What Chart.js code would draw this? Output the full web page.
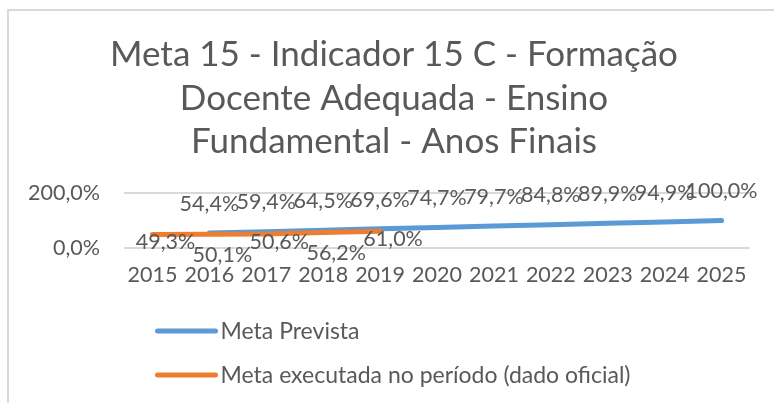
<!DOCTYPE html>
<html>
<head>
<meta charset="utf-8">
<script src="https://cdn.jsdelivr.net/npm/chart.js@4.4.1/dist/chart.umd.min.js"></script>
<style>
    html, body { margin: 0; padding: 0; background: #fff; width: 774px; height: 403px; overflow: hidden; }
    #moldura { position: absolute; left: 7px; top: 9px; width: 780px; height: 400px;
               border-left: 2px solid #d9d9d9; border-top: 2px solid #d9d9d9; }
    #moldura canvas { display: block; }
</style>
</head>
<body>
<div id="moldura"><canvas id="grafico" width="772" height="392"></canvas></div>
<script>
/* DADOS DO GRAFICO */
const anos = ['2015', '2016', '2017', '2018', '2019', '2020', '2021', '2022', '2023', '2024', '2025'];
const metaPrevista = [null, 54.4, 59.4, 64.5, 69.6, 74.7, 79.7, 84.8, 89.9, 94.9, 100.0];
const metaExecutada = [49.3, 50.1, 50.6, 56.2, 61.0, null, null, null, null, null, null];
const nomesSeries = ['Meta Prevista', 'Meta executada no período (dado oficial)'];
const coresSeries = ['#5B9BD5', '#ED7D31'];
const titulo = ['Meta 15 - Indicador 15 C - Formação', 'Docente Adequada - Ensino', 'Fundamental - Anos Finais'];
const eixoY = { min: 0, max: 200, passo: 200 };

const corTexto = '#595959';
const fonte = 'Lato';

function formataPct(v) {
    return v.toFixed(1).replace('.', ',') + '%';
}

/* titulo centrado na moldura (o titulo do Chart.js centra so na area util) */
const tituloExcel = {
    id: 'tituloExcel',
    afterDraw(chart, args, opts) {
        const ctx = chart.ctx;
        ctx.save();
        ctx.font = opts.size + 'px ' + fonte;
        ctx.fillStyle = corTexto;
        ctx.textAlign = 'center';
        ctx.textBaseline = 'alphabetic';
        opts.linhas.forEach(function(txt, i) {
            ctx.fillText(txt, opts.x, opts.y0 + i * opts.passo);
        });
        ctx.restore();
    }
};

/* rotulos de dados (sem plugin externo) */
const rotulos = {
    id: 'rotulos',
    afterDatasetsDraw(chart, args, opts) {
        const ctx = chart.ctx;
        ctx.save();
        ctx.font = opts.size + 'px ' + fonte;
        ctx.fillStyle = corTexto;
        ctx.textAlign = 'center';
        ctx.textBaseline = 'alphabetic';
        chart.data.datasets.forEach(function(ds, i) {
            const meta = chart.getDatasetMeta(i);
            const desl = opts.deslocamentos[i];
            meta.data.forEach(function(pt, j) {
                const v = ds.data[j];
                if (v === null || v === undefined) return;
                const d = desl[j % desl.length];
                ctx.fillText(formataPct(v), pt.x + d[0], pt.y + d[1] + opts.size * 0.36);
            });
        });
        ctx.restore();
    }
};

/* legenda em coluna, como no Excel */
const legenda = {
    id: 'legenda',
    afterDraw(chart, args, opts) {
        const ctx = chart.ctx;
        ctx.save();
        ctx.font = opts.size + 'px ' + fonte;
        ctx.textAlign = 'left';
        ctx.textBaseline = 'alphabetic';
        chart.data.datasets.forEach(function(ds, i) {
            const y = opts.y0 + i * opts.passo;
            ctx.strokeStyle = ds.borderColor;
            ctx.lineWidth = 5;
            ctx.lineCap = 'round';
            ctx.beginPath();
            ctx.moveTo(opts.x0, y);
            ctx.lineTo(opts.x0 + opts.largura, y);
            ctx.stroke();
            ctx.fillStyle = corTexto;
            ctx.fillText(ds.label, opts.x0 + opts.largura + 5, y + opts.size * 0.36);
        });
        ctx.restore();
    }
};

const ctx = document.getElementById('grafico').getContext('2d');
const grafico = new Chart(ctx, {
    type: 'line',
    data: {
        labels: anos,
        datasets: [{
            label: nomesSeries[0],
            data: metaPrevista,
            borderColor: coresSeries[0],
            order: 1
        }, {
            label: nomesSeries[1],
            data: metaExecutada,
            borderColor: coresSeries[1],
            order: 0
        }]
    },
    options: {
        responsive: false,
        animation: false,
        events: [],
        elements: {
            line: { borderWidth: 5, borderCapStyle: 'round', borderJoinStyle: 'round', tension: 0 },
            point: { radius: 0, hoverRadius: 0 }
        },
        layout: { padding: { left: 0, right: 31, top: 182, bottom: 0 } },
        plugins: {
            legend: { display: false },
            tooltip: { enabled: false },
            title: { display: false },
            tituloExcel: { linhas: titulo, size: 35, x: 385, y0: 55, passo: 43.5 },
            rotulos: {
                size: 21.5,
                deslocamentos: [[[0, -30]], [[13, 7], [13, 20]]]
            },
            legenda: { size: 23, x0: 148.5, y0: 320, passo: 44, largura: 58 }
        },
        scales: {
            x: {
                offset: true,
                grid: { display: false, drawTicks: false },
                border: { display: false },
                ticks: {
                    color: corTexto,
                    font: { family: fonte, size: 21.5 },
                    padding: 14,
                    maxRotation: 0,
                    autoSkip: false
                },
                afterFit: function(s) { s.height = 155; }
            },
            y: {
                min: eixoY.min,
                max: eixoY.max,
                grid: { color: '#d9d9d9', lineWidth: 2, drawTicks: false },
                border: { display: false },
                ticks: {
                    stepSize: eixoY.passo,
                    color: corTexto,
                    font: { family: fonte, size: 21.5 },
                    padding: 24,
                    callback: function(v) { return formataPct(v); }
                },
                afterFit: function(s) { s.width = 115; }
            }
        }
    },
    plugins: [tituloExcel, rotulos, legenda]
});
</script>
</body>
</html>
